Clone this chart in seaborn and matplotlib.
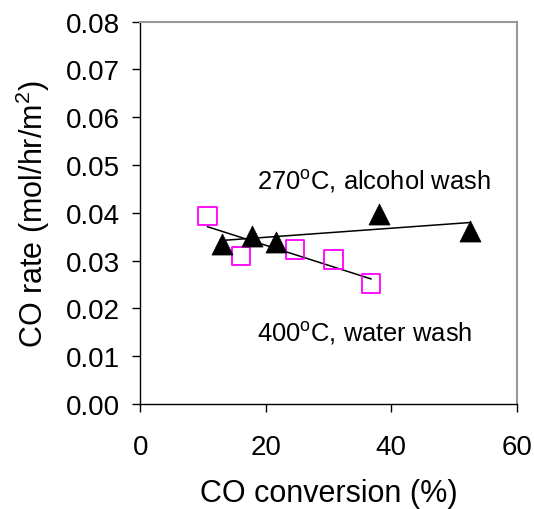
import matplotlib
matplotlib.use("Agg")
import matplotlib.pyplot as plt
import seaborn as sns
import pandas as pd
from matplotlib.ticker import FormatStrFormatter

# CO conversion (%) and CO rate (mol/hr/m2) for the two catalyst treatments
alcohol_conv = [13.1, 17.8, 21.7, 38.0, 52.6]
alcohol_rate = [0.0335, 0.0352, 0.0339, 0.0397, 0.0362]
water_conv = [10.7, 16.1, 24.7, 30.8, 36.8]
water_rate = [0.0393, 0.0310, 0.0323, 0.0302, 0.0252]

x_ticks = [0, 20, 40, 60]
y_ticks = [0.00, 0.01, 0.02, 0.03, 0.04, 0.05, 0.06, 0.07, 0.08]

alcohol = pd.DataFrame({"conv": alcohol_conv, "rate": alcohol_rate})
water = pd.DataFrame({"conv": water_conv, "rate": water_rate})

sns.set_theme(style="white")
plt.rcParams["font.family"] = ["Liberation Sans", "DejaVu Sans"]
plt.rcParams["mathtext.fontset"] = "custom"
plt.rcParams["mathtext.rm"] = "Liberation Sans"
plt.rcParams["text.color"] = "black"
plt.rcParams["axes.labelcolor"] = "black"

fig = plt.figure(figsize=(5.34, 5.10), dpi=100)
ax = fig.add_axes([0.2625, 0.206, 0.7055, 0.7495])

# linear trend lines
sns.regplot(data=alcohol, x="conv", y="rate", ax=ax, scatter=False, ci=None,
            truncate=True, line_kws=dict(color="black", lw=1.1, zorder=2))
sns.regplot(data=water, x="conv", y="rate", ax=ax, scatter=False, ci=None,
            truncate=True, line_kws=dict(color="black", lw=1.1, zorder=2))

# data points
sns.scatterplot(data=water, x="conv", y="rate", ax=ax, marker="s", s=175,
                facecolor="none", edgecolor="#ff00ff", linewidth=1.3, zorder=3)
sns.scatterplot(data=alcohol, x="conv", y="rate", ax=ax, marker="^", s=230,
                color="black", edgecolor="black", linewidth=0.5, zorder=4)

ax.set_xlim(0, 60)
ax.set_ylim(0, 0.08)
ax.set_xticks(x_ticks)
ax.set_yticks(y_ticks)
ax.yaxis.set_major_formatter(FormatStrFormatter("%.2f"))
ax.tick_params(axis="both", which="major", direction="out", length=5.5,
               width=1, color="black", labelsize=20, left=True, bottom=True,
               labelcolor="black")
ax.tick_params(axis="y", pad=9)
ax.tick_params(axis="x", pad=16)

ax.set_xlabel("CO conversion (%)", fontsize=22, labelpad=13, color="black")
ax.set_ylabel(r"CO rate (mol/hr/m$^{\rm 2}$)", fontsize=22, labelpad=10, color="black")

for side in ["left", "bottom"]:
    ax.spines[side].set_color("black")
    ax.spines[side].set_linewidth(1.0)
for side in ["top", "right"]:
    ax.spines[side].set_color("#999999")
    ax.spines[side].set_linewidth(1.5)

ax.text(18.6, 0.0469, r"270$^{\rm o}$C, alcohol wash", fontsize=18.4,
        va="center", ha="left", color="black")
ax.text(18.6, 0.0151, r"400$^{\rm o}$C, water wash", fontsize=18.4,
        va="center", ha="left", color="black")

fig.savefig("out.png", dpi=100)
